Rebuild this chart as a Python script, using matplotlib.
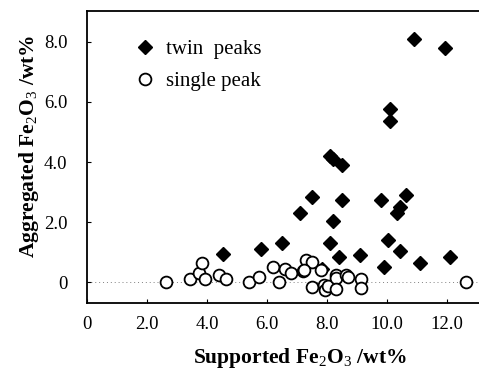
import matplotlib
matplotlib.use("Agg")
import matplotlib.pyplot as plt

# values
twin_x = [10.9, 11.95, 10.1, 10.1, 8.1, 8.2, 8.5, 7.5, 8.5, 9.8, 10.65, 10.45, 10.35, 7.1,
          8.2, 10.05, 8.1, 6.5, 5.8, 4.55, 10.45, 9.1, 8.4, 11.1, 12.1, 9.9, 7.85]
twin_y = [8.1, 7.8, 5.75, 5.35, 4.2, 4.1, 3.9, 2.85, 2.75, 2.75, 2.9, 2.5, 2.3, 2.3,
          2.05, 1.4, 1.3, 1.3, 1.1, 0.95, 1.05, 0.9, 0.85, 0.65, 0.85, 0.5, 0.45]

single_x = [2.65, 3.45, 3.75, 3.85, 3.95, 4.4, 4.65, 5.4, 5.75, 6.2, 6.4, 6.6, 6.8, 7.2, 7.3,
            7.5, 7.25, 7.8, 7.5, 7.9, 7.95, 8.05, 8.3, 8.3, 8.3, 8.65, 8.7, 9.15, 9.15, 12.65]
single_y = [0.0, 0.12, 0.3, 0.63, 0.12, 0.25, 0.1, 0.0, 0.18, 0.5, 0.0, 0.44, 0.32, 0.36, 0.75,
            0.68, 0.4, 0.4, -0.15, -0.1, -0.25, -0.12, 0.25, 0.15, -0.22, 0.25, 0.18, 0.1, -0.18, 0.0]

x_ticks = [0, 2, 4, 6, 8, 10, 12]
x_ticklabels = ["0", "2.0", "4.0", "6.0", "8.0", "10.0", "12.0"]
y_ticks = [0, 2, 4, 6, 8]
y_ticklabels = ["0", "2.0", "4.0", "6.0", "8.0"]

plt.rcParams['font.family'] = ['Liberation Serif', 'DejaVu Serif']
plt.rcParams['mathtext.fontset'] = 'custom'
plt.rcParams['mathtext.rm'] = 'Liberation Serif'
plt.rcParams['mathtext.bf'] = 'Liberation Serif:bold'

fig = plt.figure(figsize=(4.79, 3.78), dpi=100)
ax = fig.add_axes([0.1816, 0.198, 0.8184, 0.773])

#-----zero line-----
ax.axhline(0, color='gray', lw=0.7, ls=(0, (1, 3)), zorder=1)

#-----points-----
ax.plot(twin_x, twin_y, 'D', color='black', ms=6.8, ls='none', label='twin  peaks', zorder=2)
ax.plot(single_x, single_y, 'o', mfc='white', mec='black', mew=1.3, ms=8.5, ls='none',
        label='single peak', zorder=3)

ax.set_xlim(0, 13.07)
ax.set_ylim(-0.7, 9.03)
ax.set_xticks(x_ticks)
ax.set_xticklabels(x_ticklabels, fontsize=13.5)
ax.set_yticks(y_ticks)
ax.set_yticklabels(y_ticklabels, fontsize=13.5)
ax.tick_params(direction='in', length=3, width=0.8)
ax.tick_params(axis='x', pad=9)
ax.tick_params(axis='y', pad=14)
ax.spines['right'].set_visible(False)
for s in ['left', 'bottom', 'top']:
    ax.spines[s].set_linewidth(1.3)

ax.set_xlabel(r'Supported Fe$_\mathrm{2}$O$_\mathrm{3}$ /wt%', fontsize=15.5, fontweight='bold')
ax.set_ylabel(r'Aggregated Fe$_\mathrm{2}$O$_\mathrm{3}$ /wt%', fontsize=15.5, fontweight='bold')
ax.xaxis.set_label_coords(0.543, -0.148)
ax.yaxis.set_label_coords(-0.117, 0.535)

ax.legend(loc='upper left', bbox_to_anchor=(0.1, 0.93), frameon=False, fontsize=15,
          handletextpad=0.5, labelspacing=0.6, handlelength=1.0, borderaxespad=0)

fig.savefig('out.png', dpi=100)
